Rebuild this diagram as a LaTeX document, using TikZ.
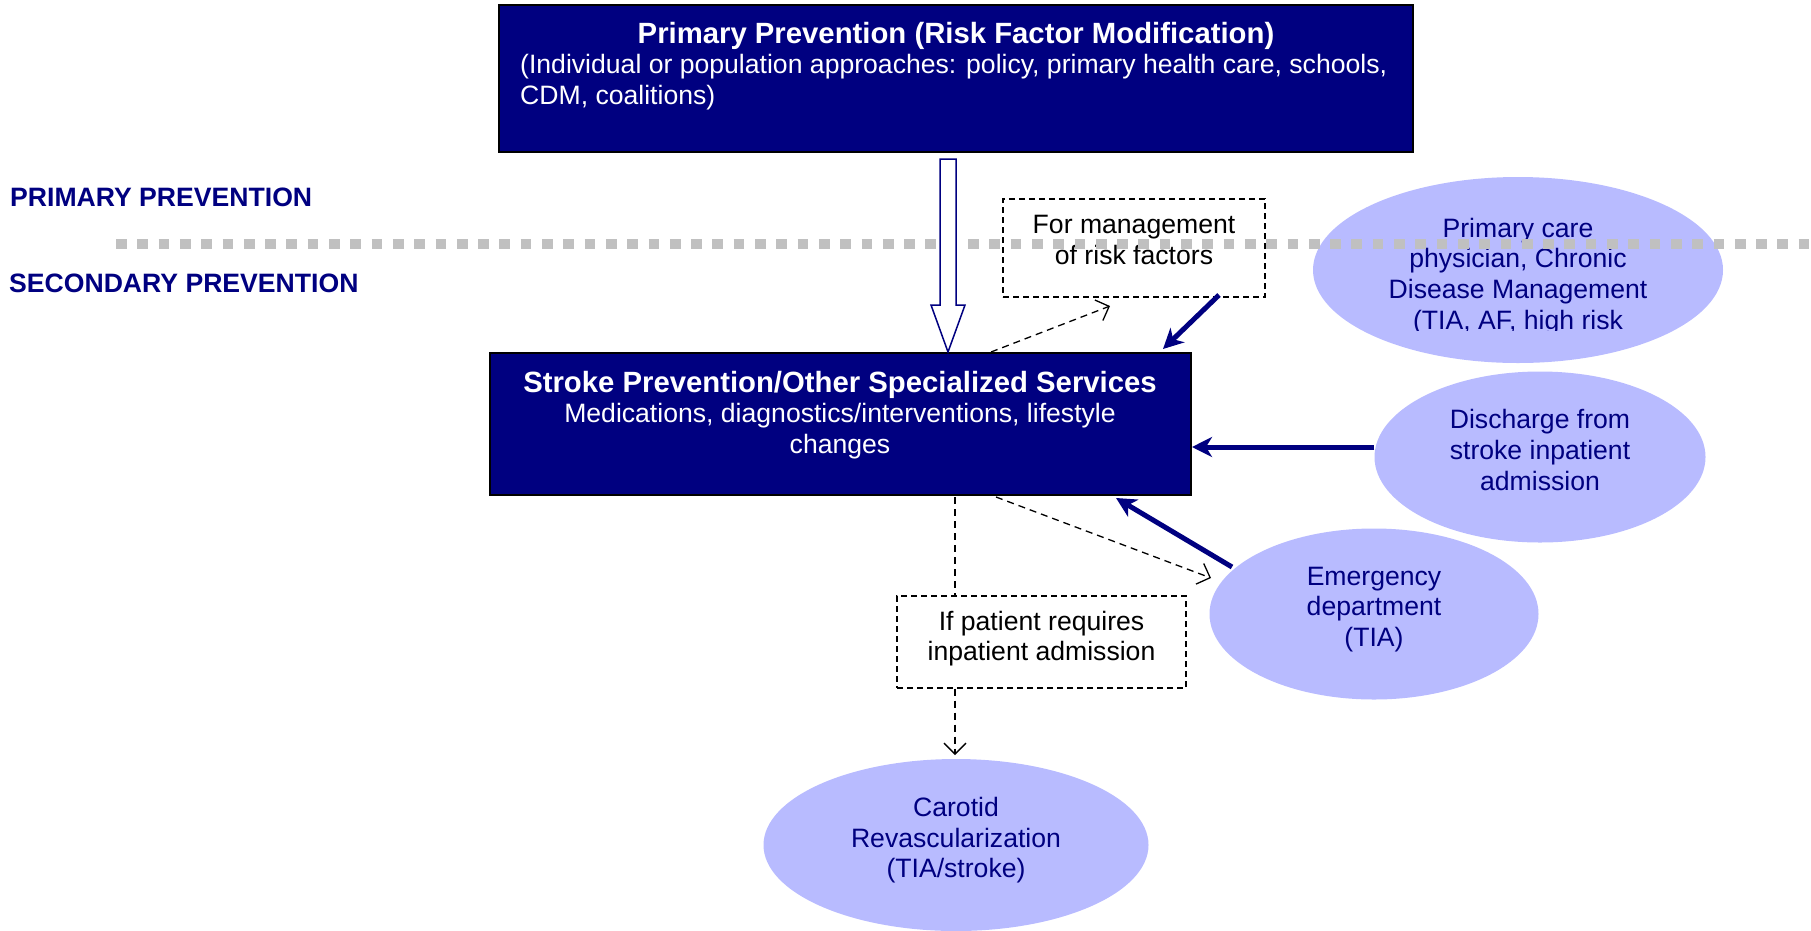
\documentclass[tikz,border=0pt]{standalone}
\usepackage{fontspec}
\setmainfont{Liberation Sans}
\usetikzlibrary{arrows.meta,shapes.geometric}
\definecolor{navy}{RGB}{0,0,128}
\definecolor{lav}{RGB}{184,187,255}
\definecolor{sep}{RGB}{192,192,192}
\tikzset{
  bigbox/.style={draw=black,line width=2pt,fill=navy,text=white,inner sep=0pt},
  notebox/.style={draw=black,line width=1.3pt,dash pattern=on 6pt off 4pt,fill=white,inner sep=0pt},
  oval/.style={ellipse,fill=lav,inner sep=0pt},
  body/.style={font=\fontsize{26.6}{30.6}\selectfont,align=center,inner sep=0pt},
  heading/.style={font=\fontsize{29.3}{33}\selectfont\bfseries,text=white,inner sep=0pt},
  side/.style={text=navy,font=\fontsize{26.6}{31}\selectfont\bfseries,anchor=west,inner sep=0pt},
  flow/.style={draw=navy,line width=5pt,-{Stealth[length=20pt,width=20pt,inset=6pt]}},
  hint/.style={draw=black,line width=1.3pt,dash pattern=on 7pt off 5pt},
  hinttip/.style={-{Straight Barb[length=11pt,width=22pt,line width=1.3pt]}}
}
\begin{document}
\begin{tikzpicture}[x=1pt,y=-1pt]
\useasboundingbox (0,0) rectangle (1811,930);

% top box
\node[bigbox,minimum width=914pt,minimum height=147pt] (pp) at (956,78.5) {};
\node[heading] (ppt) at (956,36.3) {Primary Prevention (Risk Factor Modification)};
\node[body,text=white,anchor=west,align=left] (pps) at (520,82.3)
  {(Individual or population approaches: policy, primary health care, schools,\\CDM, coalitions)};

% side labels
\node[side] (lp) at (10,197) {PRIMARY PREVENTION};
\node[side] (ls) at (9,283) {SECONDARY PREVENTION};

% stroke services box
\node[bigbox,minimum width=701pt,minimum height=142pt] (sp) at (840.5,424) {};
\node[heading] (spt) at (840,385.2) {Stroke Prevention/Other Specialized Services};
\node[body,text=white] (sps) at (840,431.3)
  {Medications, diagnostics/interventions, lifestyle\\changes};

% dashed note boxes
\node[notebox,minimum width=262pt,minimum height=98pt] (mg) at (1134,248) {};
\node[body] (mgt) at (1134,240) {For management\\of risk factors};
\node[notebox,minimum width=289pt,minimum height=92pt] (ip) at (1041.5,642) {};
\node[body] (ipt) at (1041.5,638.7) {If patient requires\\inpatient admission};

% ovals
\node[oval,minimum width=410pt,minimum height=186pt] (pc) at (1518,270) {};
\begin{scope}
  \clip (1300,200) rectangle (1750,330);
  \node[body,text=navy] (pct) at (1518,276.3)
    {Primary care\\physician, Chronic\\Disease Management\\(TIA, AF, high risk};
\end{scope}
\node[oval,minimum width=331pt,minimum height=171pt] (dc) at (1540,457) {};
\node[body,text=navy] (dct) at (1540,450) {Discharge from\\stroke inpatient\\admission};
\node[oval,minimum width=329pt,minimum height=171pt] (ed) at (1374,614) {};
\node[body,text=navy] (edt) at (1374,609.3) {Emergency\\department\\(TIA)};
\node[oval,minimum width=385pt,minimum height=172pt] (cr) at (956,845) {};
\node[body,text=navy] (crt) at (956,840.3) {Carotid\\Revascularization\\(TIA/stroke)};

% separator between primary and secondary prevention
\draw[sep,line width=10.7pt,dash pattern=on 10.7pt off 10.6pt] (116,244) -- (1811,244);

% hollow arrow from primary prevention down to stroke services
\draw[navy,line width=1.5pt,fill=white]
  (940,159) -- (956,159) -- (956,305) -- (965,305) -- (948,352) -- (931,305) -- (940,305) -- cycle;

% solid flows into stroke services
\coordinate (m1) at (1219,295);
\coordinate (s1) at (1163,349);
\draw[flow] (m1) -- (s1);
\draw[flow] (dc.west |- 0,447) -- (sp.east |- 0,447);
\coordinate (e1) at (1232,567);
\coordinate (s2) at (1116,498);
\draw[flow] (e1) -- (s2);

% dashed referrals out of stroke services
\coordinate (d0) at (991,352);
\coordinate (d1) at (1110,306);
\draw[hint,hinttip] (d0) -- (d1);
\coordinate (d2) at (996,497);
\coordinate (d3) at (1211,578);
\draw[hint,hinttip] (d2) -- (d3);
\draw[hint] (955,497) -- (ip.north -| 955,0);
\coordinate (c0) at (955,755);
\draw[hint,hinttip] (ip.south -| 955,0) -- (c0);
\end{tikzpicture}
\end{document}
